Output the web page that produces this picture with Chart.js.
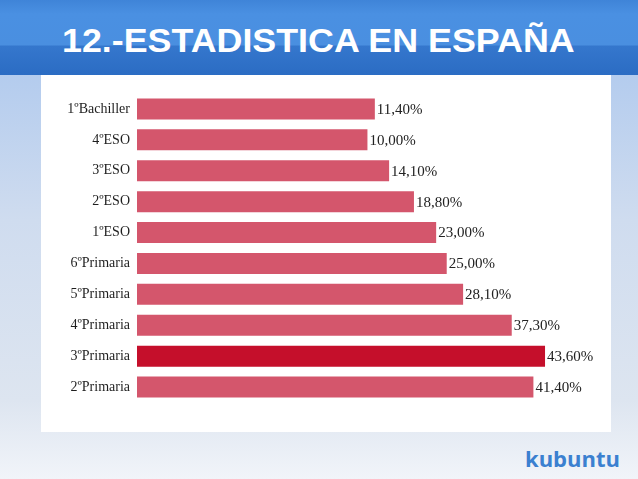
<!DOCTYPE html>
<html>
<head>
<meta charset="utf-8">
<script src="https://cdn.jsdelivr.net/npm/chart.js@4/dist/chart.umd.min.js"></script>
<style>
	html, body { margin: 0; padding: 0; }
	body {
		width: 638px; height: 479px; position: relative; overflow: hidden;
		background: linear-gradient(to bottom, #b4ccee 75px, #cfdcef 220px, #dde5f0 400px, #f1f4f9 479px);
	}
	#header {
		position: absolute; left: 0; top: 0; width: 638px; height: 75px;
		background: linear-gradient(to bottom, #3f84d8 0px, #4a90e2 14px, #4a8fe0 45px, #3577cd 46px, #2b6cc3 75px);
	}
	#title {
		position: absolute; left: 62px; top: 21.5px;
		font-family: "Liberation Sans", Arial, sans-serif; font-weight: bold; font-size: 33px;
		color: #ffffff; white-space: nowrap;
		transform: scaleX(1.085); transform-origin: 0 0;
	}
	#panel {
		position: absolute; left: 41px; top: 75px; width: 570px; height: 357px; background: #ffffff;
	}
	#logo {
		position: absolute; left: 525px; top: 443px;
		font-family: "Open Sans", Lato, sans-serif; font-weight: bold; font-size: 22px;
		color: #3b80d0;
	}
</style>
</head>
<body>
<div id="header"></div>
<div id="title">12.-ESTADISTICA EN ESPAÑA</div>
<div id="panel"><canvas id="chart" width="570" height="357"></canvas></div>
<div id="logo">kubuntu</div>
<script>
var categories = ['1ºBachiller', '4ºESO', '3ºESO', '2ºESO', '1ºESO', '6ºPrimaria', '5ºPrimaria', '4ºPrimaria', '3ºPrimaria', '2ºPrimaria'];
var percentages = [11.40, 10.00, 14.10, 18.80, 23.00, 25.00, 28.10, 37.30, 43.60, 41.40];
var highlighted = '3ºPrimaria';

var axisMin = -33.6;
var axisMax = 54;

var barColor = '#d4566c';
var highlightColor = '#c50f2b';

var formatPercent = function(value) {
	return value.toFixed(2).replace('.', ',') + '%';
};

var colors = categories.map(function(name) {
	return name == highlighted ? highlightColor : barColor;
});

var valueLabels = {
	id: 'valueLabels',
	afterDatasetsDraw: function(chart) {
		var ctx = chart.ctx;
		var meta = chart.getDatasetMeta(0);
		ctx.save();
		ctx.font = '15px "Liberation Serif", serif';
		ctx.fillStyle = '#222222';
		ctx.textAlign = 'left';
		ctx.textBaseline = 'middle';
		meta.data.forEach(function(bar, i) {
			ctx.fillText(formatPercent(percentages[i]), bar.x + 2, bar.y + 1);
		});
		ctx.restore();
	}
};

var doInit = function() {
	var context = document.getElementById('chart').getContext('2d');
	new Chart(context, {
		type: 'bar',
		data: {
			labels: categories,
			datasets: [{
				data: percentages,
				base: axisMin,
				backgroundColor: colors,
				borderWidth: 0,
				categoryPercentage: 1,
				barPercentage: 0.68
			}]
		},
		options: {
			indexAxis: 'y',
			responsive: false,
			animation: false,
			layout: { padding: { left: 0, right: 11, top: 18.5, bottom: 29.5 } },
			plugins: { legend: { display: false }, tooltip: { enabled: false } },
			scales: {
				x: { display: false, min: axisMin, max: axisMax },
				y: {
					grid: { display: false, drawTicks: false },
					border: { display: false },
					ticks: {
						padding: 7,
						color: '#1e1e1e',
						font: { family: '"Liberation Serif", serif', size: 14 }
					},
					afterFit: function(scale) { scale.width = 96; }
				}
			}
		},
		plugins: [valueLabels]
	});
};

document.addEventListener('DOMContentLoaded', doInit);
</script>
</body>
</html>
